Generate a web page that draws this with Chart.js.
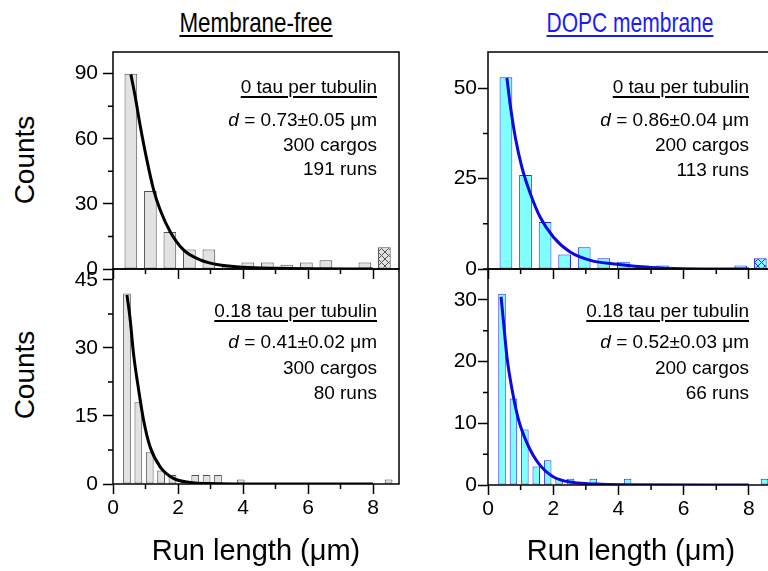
<!DOCTYPE html>
<html>
<head>
<meta charset="utf-8">
<script src="https://cdn.jsdelivr.net/npm/chart.js@4.4.1/dist/chart.umd.min.js"></script>
<style>
    html, body { margin: 0; padding: 0; width: 768px; height: 571px; overflow: hidden; background: #fff; }
    body { position: relative; font-family: 'Liberation Sans', Arial, sans-serif; color: #000; }
    .box { position: absolute; }
    .t { position: absolute; white-space: nowrap; line-height: 1; }
    .ttl { font-size: 28px; top: 9px; text-decoration: underline; text-decoration-thickness: 2px; text-underline-offset: 3px; }
    .axt { font-size: 29px; top: 536px; transform: translateX(-50%); }
    .ylab { font-size: 28px; transform: translate(-50%, -50%) rotate(-90deg); }
    .note { position: absolute; white-space: nowrap; font-size: 19px; line-height: 22px; text-align: right; }
    .u { text-decoration: underline; text-decoration-thickness: 1.5px; text-underline-offset: 3px; }
</style>
</head>
<body>

<div class="t ttl" style="left:256px; transform: translateX(-50%) scaleX(0.8);">Membrane-free</div>
<div class="t ttl" style="left:630px; color:#1a1aff; transform: translateX(-50%) scaleX(0.75);">DOPC membrane</div>

<div class="t ylab" style="left:25px; top:160px;">Counts</div>
<div class="t ylab" style="left:25px; top:375px;">Counts</div>

<div class="box" style="left:0; top:0;"><canvas id="tl" width="420" height="300"></canvas></div>
<div class="box" style="left:0; top:240px;"><canvas id="bl" width="420" height="331"></canvas></div>
<div class="box" style="left:380px; top:0;"><canvas id="tr" width="420" height="300"></canvas></div>
<div class="box" style="left:380px; top:240px;"><canvas id="br" width="420" height="331"></canvas></div>

<div class="note" style="right:391px; top:76px;"><span class="u">0 tau per tubulin</span></div>
<div class="note" style="right:391px; top:109px;"><i>d</i> = 0.73±0.05 μm</div>
<div class="note" style="right:391px; top:134px;">300 cargos</div>
<div class="note" style="right:391px; top:158px;">191 runs</div>

<div class="note" style="right:391px; top:300px;"><span class="u">0.18 tau per tubulin</span></div>
<div class="note" style="right:391px; top:331px;"><i>d</i> = 0.41±0.02 μm</div>
<div class="note" style="right:391px; top:357px;">300 cargos</div>
<div class="note" style="right:391px; top:382px;">80 runs</div>

<div class="note" style="right:19px; top:76px;"><span class="u">0 tau per tubulin</span></div>
<div class="note" style="right:19px; top:109px;"><i>d</i> = 0.86±0.04 μm</div>
<div class="note" style="right:19px; top:134px;">200 cargos</div>
<div class="note" style="right:19px; top:159px;">113 runs</div>

<div class="note" style="right:19px; top:300px;"><span class="u">0.18 tau per tubulin</span></div>
<div class="note" style="right:19px; top:331px;"><i>d</i> = 0.52±0.03 μm</div>
<div class="note" style="right:19px; top:357px;">200 cargos</div>
<div class="note" style="right:19px; top:382px;">66 runs</div>

<div class="t axt" style="left:256px;">Run length (μm)</div>
<div class="t axt" style="left:631px;">Run length (μm)</div>

<script>
// bin centres (µm)
const binsTop = [0.55, 1.15, 1.75, 2.35, 2.95, 3.55, 4.15, 4.75, 5.35, 5.95, 6.55, 7.15, 7.75, 8.35];
const binsBottom = [0.43, 0.78, 1.13, 1.48, 1.83, 2.18, 2.53, 2.88, 3.23, 3.58, 3.93, 4.28,
    4.63, 4.98, 5.33, 5.68, 6.03, 6.38, 6.73, 7.08, 7.43, 7.78, 8.13, 8.48];

// counts per bin
const countsFree0 = [90, 36, 17, 9, 9, 2, 3, 3, 2, 3, 4, 0, 3, 10];
const countsDopc0 = [53, 26, 13, 4, 6, 3, 2, 1, 1, 0, 0, 0, 1, 3];
const countsFree18 = [42, 18, 7, 3, 2, 0, 2, 2, 2, 0, 1, 0, 0, 0, 0, 0, 0, 0, 0, 0, 0, 0, 0, 1];
const countsDopc18 = [31, 14, 9, 3, 4, 1, 1, 0, 1, 0, 0, 1, 0, 0, 0, 0, 0, 0, 0, 0, 0, 0, 0, 1];

// exponential fit curves
const fitFree0X = [0.55, 0.68, 0.84, 1.04, 1.25, 1.45, 1.76, 2.17, 2.68, 3.29, 4.0, 5.0, 6.0, 8.0];
const fitFree0Y = [89.7, 79.7, 65.8, 50.4, 36.5, 27.3, 17.2, 8.8, 4.2, 1.8, 0.8, 0.3, 0.1, 0];
const fitDopc0X = [0.58, 0.68, 0.84, 1.04, 1.30, 1.60, 2.01, 2.52, 3.14, 3.96, 5.0, 6.0, 8.0];
const fitDopc0Y = [52.8, 45.5, 36.3, 28.1, 20.8, 14.3, 8.8, 4.7, 2.4, 1.3, 0.4, 0.1, 0];
const fitFree18X = [0.43, 0.53, 0.63, 0.79, 0.94, 1.14, 1.45, 1.86, 2.37, 3.0, 4.0, 8.0];
const fitFree18Y = [41.7, 36.2, 28.8, 20.7, 14.1, 8.2, 3.8, 1.25, 0.35, 0.1, 0, 0];
const fitDopc18X = [0.40, 0.48, 0.58, 0.74, 0.94, 1.20, 1.55, 2.01, 2.63, 3.3, 4.2, 8.0];
const fitDopc18Y = [30.5, 26.2, 20.8, 15.4, 10.5, 6.75, 3.5, 1.3, 0.4, 0.15, 0.05, 0];

// axis ranges / tick steps
const xMax = 8.8;
const xMajor = 2, xMinor = 1;

Chart.defaults.font.family = "'Liberation Sans', Arial, sans-serif";
Chart.defaults.font.size = 21;
Chart.defaults.color = '#000';

// frame around the plot + short minor ticks
const frameAndMinor = {
    id: 'frameAndMinor',
    afterDatasetsDraw(chart, args, opts) {
        const { ctx, chartArea: a, scales: { x, y } } = chart;
        ctx.save();
        ctx.strokeStyle = '#000';
        ctx.lineWidth = 1.5;
        ctx.beginPath();
        for (let v = x.min + opts.xMinor; v <= x.max + 1e-9; v += opts.xMinor) {
            if (Math.abs(v / opts.xMajor - Math.round(v / opts.xMajor)) < 1e-6) continue;
            const px = x.getPixelForValue(v);
            ctx.moveTo(px, a.bottom);
            ctx.lineTo(px, a.bottom + 5);
        }
        for (let v = y.min + opts.yMinor; v <= y.max + 1e-9; v += opts.yMinor) {
            if (Math.abs(v / opts.yMajor - Math.round(v / opts.yMajor)) < 1e-6) continue;
            const py = y.getPixelForValue(v);
            ctx.moveTo(a.left, py);
            ctx.lineTo(a.left - 5, py);
        }
        ctx.stroke();
        ctx.strokeRect(a.left, a.top, a.right - a.left, a.bottom - a.top);
        ctx.restore();
    }
};

function hatch(bg, fg) {
    const c = document.createElement('canvas');
    c.width = 7; c.height = 7;
    const g = c.getContext('2d');
    g.fillStyle = bg;
    g.fillRect(0, 0, 7, 7);
    g.strokeStyle = fg;
    g.lineWidth = 1;
    g.beginPath();
    g.moveTo(0, 0); g.lineTo(7, 7);
    g.moveTo(7, 0); g.lineTo(0, 7);
    g.stroke();
    return g.createPattern(c, 'repeat');
}

function panel(id, p) {
    const fills = p.counts.map((v, i) => (p.hatchLast && i === p.counts.length - 1) ? hatch(p.fill, p.edge) : p.fill);
    return new Chart(document.getElementById(id), {
        type: 'bar',
        data: {
            datasets: [
                {
                    type: 'line',
                    data: p.fitX.map((x, i) => ({ x: x, y: p.fitY[i] })),
                    borderColor: p.line,
                    borderWidth: 3,
                    pointRadius: 0,
                    cubicInterpolationMode: 'monotone',
                    fill: false,
                    order: 0
                },
                {
                    type: 'bar',
                    data: p.bins.map((x, i) => ({ x: x, y: p.counts[i] })),
                    backgroundColor: fills,
                    borderColor: p.edge,
                    borderWidth: 1,
                    borderSkipped: false,
                    barPercentage: p.barPct,
                    categoryPercentage: 1,
                    order: 1
                }
            ]
        },
        options: {
            responsive: false,
            animation: false,
            layout: { padding: p.pad },
            plugins: {
                legend: { display: false },
                tooltip: { enabled: false },
                frameAndMinor: { xMajor: xMajor, xMinor: xMinor, yMajor: p.yStep, yMinor: p.yStep / 2 }
            },
            scales: {
                x: {
                    type: 'linear',
                    min: 0, max: xMax,
                    offset: false,
                    border: { display: false },
                    grid: { offset: false, drawOnChartArea: false, tickLength: 10, tickWidth: 1.5, tickColor: '#000' },
                    ticks: {
                        stepSize: xMajor, includeBounds: false, padding: 2, maxRotation: 0,
                        callback: v => p.xLabels ? v : ''
                    },
                    afterFit: s => { s.height = p.xH; }
                },
                y: {
                    min: 0, max: p.yMax,
                    border: { display: false },
                    grid: { drawOnChartArea: false, tickLength: 10, tickWidth: 1.5, tickColor: '#000' },
                    ticks: { stepSize: p.yStep, includeBounds: false, padding: p.yPad },
                    afterFit: s => { s.width = 60; }
                }
            }
        },
        plugins: [frameAndMinor]
    });
}

const grey = { fill: '#e2e2e2', edge: '#505050', line: '#000000', yPad: 5 };
const cyan = { fill: '#80ffff', edge: '#2a2aff', line: '#0a0ae0', yPad: 1 };

panel('tl', Object.assign({}, grey, {
    bins: binsTop, counts: countsFree0, fitX: fitFree0X, fitY: fitFree0Y,
    yMax: 100, yStep: 30, barPct: 0.65, hatchLast: true, xLabels: false, xH: 20,
    pad: { left: 53, top: 52, right: 21, bottom: 11 }
}));
panel('bl', Object.assign({}, grey, {
    bins: binsBottom, counts: countsFree18, fitX: fitFree18X, fitY: fitFree18Y,
    yMax: 47.4, yStep: 15, barPct: 0.68, hatchLast: false, xLabels: true, xH: 50,
    pad: { left: 53, top: 29, right: 21, bottom: 37 }
}));
panel('tr', Object.assign({}, cyan, {
    bins: binsTop, counts: countsDopc0, fitX: fitDopc0X, fitY: fitDopc0Y,
    yMax: 60, yStep: 25, barPct: 0.65, hatchLast: true, xLabels: false, xH: 20,
    pad: { left: 48, top: 52, right: 25, bottom: 11 }
}));
panel('br', Object.assign({}, cyan, {
    bins: binsBottom, counts: countsDopc18, fitX: fitDopc18X, fitY: fitDopc18Y,
    yMax: 35, yStep: 10, barPct: 0.66, hatchLast: false, xLabels: true, xH: 50,
    pad: { left: 48, top: 29, right: 25, bottom: 36 }
}));
</script>
</body>
</html>
